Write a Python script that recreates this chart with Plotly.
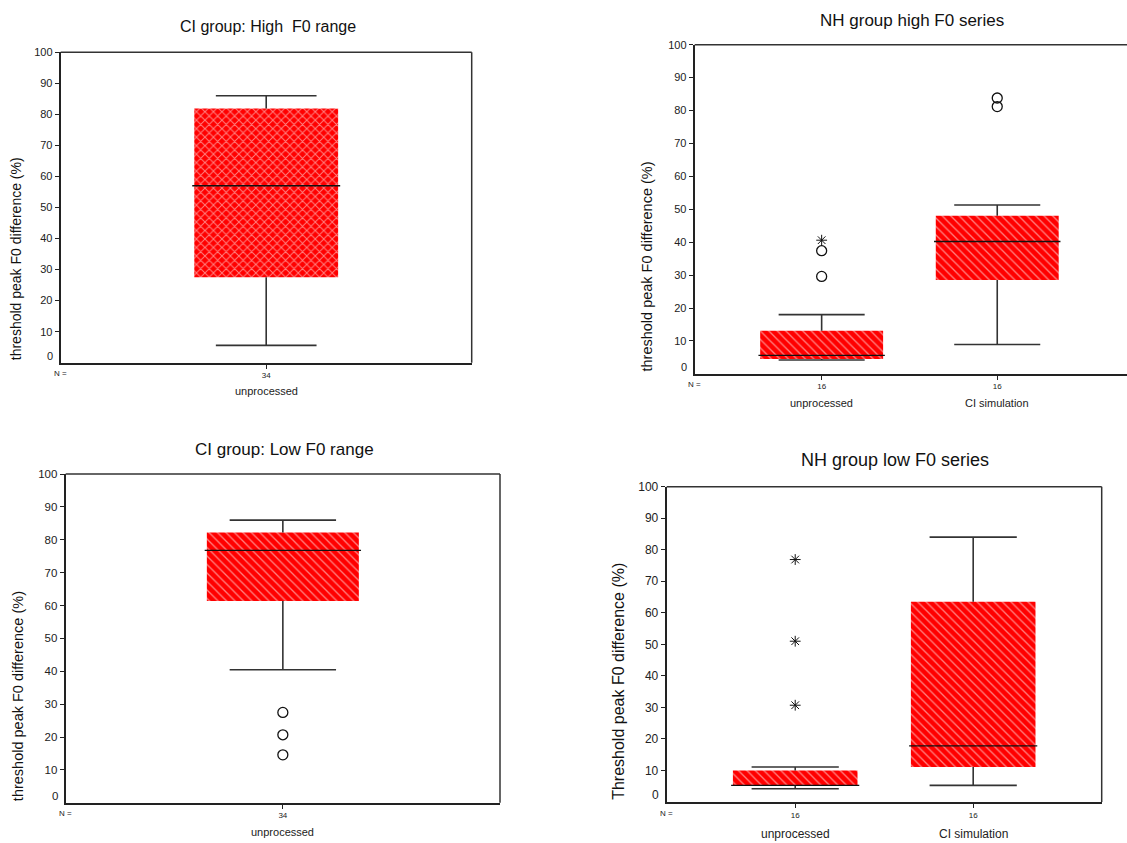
import plotly.graph_objects as go

W, H = 1127, 843
FONT = "Liberation Sans, Arial, sans-serif"
RED = "#ff0000"
INK = "#222222"

# ---- CI group, high F0 range ----
ci_high_cats = ["unprocessed"]
ci_high_n = [34]
ci_high_lo = [5.6]
ci_high_q1 = [27.5]
ci_high_med = [57.0]
ci_high_q3 = [81.9]
ci_high_hi = [86.0]
ci_high_out = [[]]
ci_high_ext = [[]]

# ---- NH group, high F0 series ----
nh_high_cats = ["unprocessed", "CI simulation"]
nh_high_n = [16, 16]
nh_high_lo = [4.2, 8.9]
nh_high_q1 = [4.5, 28.5]
nh_high_med = [5.6, 40.2]
nh_high_q3 = [13.1, 48.0]
nh_high_hi = [18.0, 51.3]
nh_high_out = [[29.6, 37.4], [81.2, 83.8]]
nh_high_ext = [[40.6], []]

# ---- CI group, low F0 range ----
ci_low_cats = ["unprocessed"]
ci_low_n = [34]
ci_low_lo = [40.5]
ci_low_q1 = [61.4]
ci_low_med = [76.8]
ci_low_q3 = [82.2]
ci_low_hi = [86.0]
ci_low_out = [[14.6, 20.7, 27.5]]
ci_low_ext = [[]]

# ---- NH group, low F0 series ----
nh_low_cats = ["unprocessed", "CI simulation"]
nh_low_n = [16, 16]
nh_low_lo = [4.2, 5.3]
nh_low_q1 = [5.3, 11.1]
nh_low_med = [5.3, 17.8]
nh_low_q3 = [10.0, 63.5]
nh_low_hi = [11.1, 84.0]
nh_low_out = [[], []]
nh_low_ext = [[30.7, 51.0, 76.9], []]

y_ticks = [10, 20, 30, 40, 50, 60, 70, 80, 90, 100]


def px_x(v):
    return v / W


def px_y(v):
    return 1 - v / H


panels = [
    dict(title="CI group: High  F0 range", ytitle="threshold peak F0 difference (%)",
         cats=ci_high_cats, n=ci_high_n, lo=ci_high_lo, q1=ci_high_q1, med=ci_high_med,
         q3=ci_high_q3, hi=ci_high_hi, out=ci_high_out, ext=ci_high_ext,
         box=(60.7, 471.7, 45.7, 358.7), xrange=[0, 2], pattern="x",
         title_xy=(268, 20), title_size=16, ytitle_x=16, ytitle_size=14,
         tick_size=11, cat_size=11, cat_shift=28, right=True),
    dict(title="NH group high F0 series", ytitle="threshold peak F0 difference (%)",
         cats=nh_high_cats, n=nh_high_n, lo=nh_high_lo, q1=nh_high_q1, med=nh_high_med,
         q3=nh_high_q3, hi=nh_high_hi, out=nh_high_out, ext=nh_high_ext,
         box=(694.7, 1127, 38.0, 369.9), xrange=[0.277, 2.739], pattern="\\",
         title_xy=(912, 14), title_size=17, ytitle_x=646.7, ytitle_size=14.5,
         tick_size=11, cat_size=11, cat_shift=29, right=False),
    dict(title="CI group: Low F0 range", ytitle="threshold peak F0 difference (%)",
         cats=ci_low_cats, n=ci_low_n, lo=ci_low_lo, q1=ci_low_q1, med=ci_low_med,
         q3=ci_low_q3, hi=ci_low_hi, out=ci_low_out, ext=ci_low_ext,
         box=(65.7, 500, 471.0, 802.5), xrange=[0, 2], pattern="\\",
         title_xy=(284, 446), title_size=17, ytitle_x=18.3, ytitle_size=14.5,
         tick_size=11.5, cat_size=11, cat_shift=29, right=True),
    dict(title="NH group low F0 series", ytitle="Threshold peak F0 difference (%)",
         cats=nh_low_cats, n=nh_low_n, lo=nh_low_lo, q1=nh_low_q1, med=nh_low_med,
         q3=nh_low_q3, hi=nh_low_hi, out=nh_low_out, ext=nh_low_ext,
         box=(666.7, 1101.7, 483.7, 801.7), xrange=[0.278, 2.722], pattern="\\",
         title_xy=(895, 457), title_size=18, ytitle_x=618.3, ytitle_size=16,
         tick_size=12, cat_size=12, cat_shift=32, right=True),
]

BOX_W = 0.70
CAP_W = 0.49

fig = go.Figure()
annotations = []
shapes = []
layout_axes = {}

for i, p in enumerate(panels, start=1):
    xa = "x" if i == 1 else f"x{i}"
    ya = "y" if i == 1 else f"y{i}"
    xkey = "xaxis" if i == 1 else f"xaxis{i}"
    ykey = "yaxis" if i == 1 else f"yaxis{i}"
    x0, x1, ytop, ybot = p["box"]
    pos = list(range(1, len(p["cats"]) + 1))

    # interquartile boxes as patterned bars
    fig.add_trace(go.Bar(
        x=pos, base=p["q1"], y=[b - a for a, b in zip(p["q1"], p["q3"])],
        width=BOX_W, xaxis=xa, yaxis=ya, showlegend=False, hoverinfo="skip",
        marker=dict(color=RED, line=dict(width=0),
                    pattern=dict(shape=p["pattern"], fgcolor="white", bgcolor=RED,
                                 size=6, solidity=0.22 if p["pattern"] == "\\" else 0.3)),
    ))

    # whisker stems and caps
    wx, wy = [], []
    for c, lo, q1, q3, hi in zip(pos, p["lo"], p["q1"], p["q3"], p["hi"]):
        wx += [c, c, None, c, c, None,
               c - CAP_W / 2, c + CAP_W / 2, None, c - CAP_W / 2, c + CAP_W / 2, None]
        wy += [lo, q1, None, q3, hi, None, lo, lo, None, hi, hi, None]
    fig.add_trace(go.Scatter(x=wx, y=wy, mode="lines", xaxis=xa, yaxis=ya,
                             line=dict(color="#333333", width=1.6),
                             showlegend=False, hoverinfo="skip"))

    # medians
    mx, my = [], []
    for c, m in zip(pos, p["med"]):
        mx += [c - BOX_W / 2 - 0.01, c + BOX_W / 2 + 0.01, None]
        my += [m, m, None]
    fig.add_trace(go.Scatter(x=mx, y=my, mode="lines", xaxis=xa, yaxis=ya,
                             line=dict(color="#111111", width=1.4),
                             showlegend=False, hoverinfo="skip"))

    # outliers (circles) and extremes (asterisks)
    ox, oy, ex, ey = [], [], [], []
    for c, outs, exts in zip(pos, p["out"], p["ext"]):
        ox += [c] * len(outs)
        oy += outs
        ex += [c] * len(exts)
        ey += exts
    if ox:
        fig.add_trace(go.Scatter(x=ox, y=oy, mode="markers", xaxis=xa, yaxis=ya,
                                 marker=dict(symbol="circle-open", size=10, color="#111111",
                                             line=dict(width=1.3)),
                                 showlegend=False, hoverinfo="skip"))
    if ex:
        fig.add_trace(go.Scatter(x=ex, y=ey, mode="markers", xaxis=xa, yaxis=ya,
                                 marker=dict(symbol="asterisk-open", size=9, color="#111111",
                                             line=dict(width=1.0)),
                                 showlegend=False, hoverinfo="skip"))

    layout_axes[xkey] = dict(
        domain=[px_x(x0), min(1.0, px_x(x1))], range=p["xrange"], anchor=ya,
        showline=True, linewidth=2, linecolor=INK, ticks="outside", ticklen=4,
        tickwidth=1, tickcolor=INK, tickvals=pos, ticktext=[str(v) for v in p["n"]],
        tickfont=dict(family=FONT, size=8, color=INK),
        showgrid=False, zeroline=False, fixedrange=True,
    )
    layout_axes[ykey] = dict(
        domain=[px_y(ybot), px_y(ytop)], range=[0, 100], anchor=xa,
        showline=True, linewidth=2, linecolor=INK, ticks="outside", ticklen=4,
        tickwidth=1, tickcolor=INK, tickvals=y_ticks,
        tickfont=dict(family=FONT, size=p["tick_size"], color=INK),
        showgrid=False, zeroline=False, fixedrange=True,
    )

    # frame: top edge (and right edge when visible)
    shapes.append(dict(type="line", xref=f"{xa} domain", yref=f"{ya} domain",
                       x0=0, x1=1, y0=1, y1=1, line=dict(color="#333333", width=1.5)))
    if p["right"]:
        shapes.append(dict(type="line", xref=f"{xa} domain", yref=f"{ya} domain",
                           x0=1, x1=1, y0=0, y1=1, line=dict(color="#333333", width=1.5)))

    # zero label sits a little above the axis line
    annotations.append(dict(text="0", xref=f"{xa} domain", yref=ya, x=0, y=0,
                            xanchor="right", yanchor="middle", xshift=-6, yshift=7,
                            showarrow=False,
                            font=dict(family=FONT, size=p["tick_size"], color=INK)))

    # "N =" caption and category names
    annotations.append(dict(text="N =", xref=f"{xa} domain", yref=f"{ya} domain", x=0, y=0,
                            xanchor="center", yanchor="middle", yshift=-11, showarrow=False,
                            font=dict(family=FONT, size=8, color=INK)))
    for c, name in zip(pos, p["cats"]):
        annotations.append(dict(text=name, xref=xa, yref=f"{ya} domain", x=c, y=0,
                                xanchor="center", yanchor="middle", yshift=-p["cat_shift"],
                                showarrow=False,
                                font=dict(family=FONT, size=p["cat_size"], color=INK)))

    # panel title
    tx, ty = p["title_xy"]
    annotations.append(dict(text=p["title"], xref="paper", yref="paper",
                            x=px_x(tx), y=px_y(ty), xanchor="center", yanchor="middle",
                            showarrow=False,
                            font=dict(family=FONT, size=p["title_size"], color="#111111")))

    # y-axis title, aligned with the bottom of the axis
    annotations.append(dict(text=p["ytitle"], xref="paper", yref=f"{ya} domain",
                            x=px_x(p["ytitle_x"]), y=0, xanchor="center", yanchor="bottom",
                            textangle=-90, showarrow=False,
                            font=dict(family=FONT, size=p["ytitle_size"], color="#111111")))

fig.update_layout(
    width=W, height=H, margin=dict(l=0, r=0, t=0, b=0),
    paper_bgcolor="white", plot_bgcolor="white",
    showlegend=False, barmode="overlay",
    annotations=annotations, shapes=shapes,
    **layout_axes,
)

fig.write_html("out.html", config={"displayModeBar": False})
